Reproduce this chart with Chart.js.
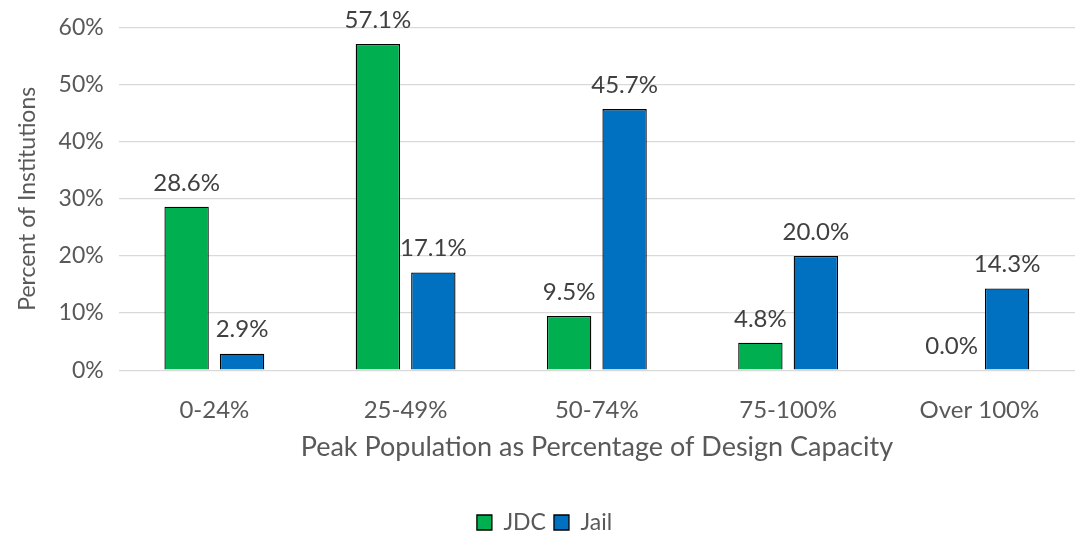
<!DOCTYPE html>
<html>
<head>
<meta charset="utf-8">
<script src="https://cdn.jsdelivr.net/npm/chart.js@4.4.0/dist/chart.umd.min.js"></script>
<style>
  html, body { margin: 0; padding: 0; background: #ffffff; }
  #wrap { width: 1091px; height: 535px; }
</style>
</head>
<body>
<div id="wrap"><canvas id="chart" width="1091" height="535"></canvas></div>
<script>
// Peak population relative to design capacity, share of institutions
const categories = ['0-24%', '25-49%', '50-74%', '75-100%', 'Over 100%'];
const jdcValues = [28.6, 57.1, 9.5, 4.8, 0.0];
const jailValues = [2.9, 17.1, 45.7, 20.0, 14.3];
const seriesNames = ['JDC', 'Jail'];
const yTicks = [0, 10, 20, 30, 40, 50, 60];

const FONT = "Lato, 'Open Sans', 'Liberation Sans', sans-serif";

// Writes each bar's value above it
const valueLabels = {
  id: 'valueLabels',
  afterDatasetsDraw(chart) {
    const ctx = chart.ctx;
    ctx.save();
    ctx.font = '24px ' + FONT;
    ctx.fillStyle = '#404040';
    ctx.textAlign = 'center';
    ctx.textBaseline = 'bottom';
    chart.data.datasets.forEach((ds, i) => {
      const meta = chart.getDatasetMeta(i);
      meta.data.forEach((bar, j) => {
        const v = ds.data[j];
        ctx.fillText(v.toFixed(1) + '%', bar.x, bar.y - 12);
      });
    });
    ctx.restore();
  }
};

new Chart(document.getElementById('chart'), {
  type: 'bar',
  data: {
    labels: categories,
    datasets: [
      { label: seriesNames[0], data: jdcValues, backgroundColor: '#00B050', borderColor: '#000000', borderWidth: 1.3 },
      { label: seriesNames[1], data: jailValues, backgroundColor: '#0070C0', borderColor: '#000000', borderWidth: 1.3 }
    ]
  },
  options: {
    responsive: false,
    animation: false,
    layout: { padding: { top: -16, right: 16, left: 14, bottom: -9 } },
    datasets: { bar: { categoryPercentage: 0.58, barPercentage: 0.8 } },
    plugins: {
      tooltip: { enabled: false },
      legend: {
        position: 'bottom',
        labels: {
          font: { family: FONT, size: 23 },
          color: '#595959',
          boxWidth: 15,
          boxHeight: 15,
          padding: 8,
          useBorderRadius: false
        }
      }
    },
    scales: {
      x: {
        grid: { display: false },
        border: { display: false },
        ticks: { font: { family: FONT, size: 24, lineHeight: 0.7 }, color: '#595959', padding: 24 },
        title: {
          display: true,
          text: 'Peak Population as Percentage of Design Capacity',
          font: { family: FONT, size: 27, lineHeight: 1 },
          color: '#595959',
          padding: { top: -9, bottom: 42 }
        }
      },
      y: {
        min: 0,
        max: 60,
        afterBuildTicks(axis) { axis.ticks = yTicks.map(v => ({ value: v })); },
        grid: { color: '#D9D9D9', lineWidth: 1.3, drawTicks: false },
        border: { display: false },
        ticks: {
          font: { family: FONT, size: 23, lineHeight: 1.08 },
          color: '#595959',
          padding: 15,
          callback: v => v + '%'
        },
        title: {
          display: true,
          text: 'Percent of Institutions',
          font: { family: FONT, size: 23 },
          color: '#595959',
          padding: { top: 0, bottom: 2 }
        }
      }
    }
  },
  plugins: [valueLabels]
});
</script>
</body>
</html>
